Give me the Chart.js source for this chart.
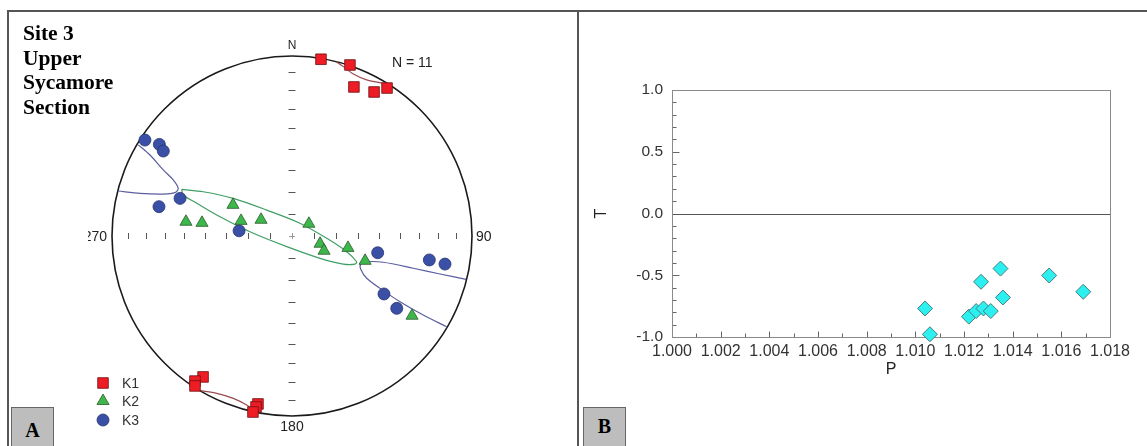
<!DOCTYPE html>
<html>
<head>
<meta charset="utf-8">
<script src="https://cdn.jsdelivr.net/npm/chart.js@4.4.1/dist/chart.umd.min.js"></script>
<style>
  html, body { margin: 0; padding: 0; background: #fff; }
  #fig { position: relative; width: 1147px; height: 446px; overflow: hidden; }
  .frame { position: absolute; left: 7px; top: 10px; right: -4px; bottom: -4px;
           border-top: 2px solid #555; border-left: 2px solid #555; }
  .divider { position: absolute; left: 577px; top: 10px; width: 2px; bottom: 0; background: #555; z-index: 2; }
  .site { position: absolute; left: 23px; top: 21px; color: #000;
          font: bold 21.5px/24.5px "Liberation Serif", "Times New Roman", serif; }
  .tag { position: absolute; top: 407px; width: 41px; height: 44px; background: #bdbdbd;
         border: 1px solid #666; text-align: center; color: #000;
         font: bold 20px "Liberation Serif", "Times New Roman", serif; z-index: 2; }
  canvas { position: absolute; }
</style>
</head>
<body>
<div id="fig">
  <div class="frame"></div>
  <canvas id="net" width="489" height="434" style="left:88px;top:12px"></canvas>
  <canvas id="pt" width="568" height="434" style="left:579px;top:12px"></canvas>
  <div class="divider"></div>
  <div class="site">Site 3<br>Upper<br>Sycamore<br>Section</div>
  <div class="tag" style="left:11px;line-height:44px">A</div>
  <div class="tag" style="left:583px;line-height:37px">B</div>
</div>
<script>
// ── Equal-area net, lower hemisphere: (east, north) on a unit primitive ──
const K1_NET = [
  [0.161, 0.982], [0.322, 0.950], [0.344, 0.828], [0.456, 0.800], [0.528, 0.822],
  [-0.494, -0.783], [-0.539, -0.806], [-0.539, -0.833],
  [-0.189, -0.933], [-0.200, -0.950], [-0.217, -0.978]
];
const K2_NET = [
  [-0.328, 0.173], [-0.589, 0.079], [-0.500, 0.073], [-0.283, 0.084], [-0.172, 0.090],
  [0.094, 0.068], [0.156, -0.043], [0.178, -0.082], [0.311, -0.066], [0.406, -0.138], [0.667, -0.443]
];
const K3_NET = [
  [-0.817, 0.533], [-0.737, 0.509], [-0.715, 0.472], [-0.622, 0.209], [-0.739, 0.163],
  [-0.294, 0.029], [0.476, -0.093], [0.763, -0.133], [0.850, -0.156], [0.511, -0.322], [0.582, -0.402]
];

// 95% confidence ellipses (traced, cut at the primitive)
const K1_CONE_N = [[0.245, 0.968], [0.285, 0.941], [0.341, 0.900], [0.415, 0.867], [0.489, 0.852], [0.528, 0.844]];
const K1_CONE_S = [[-0.511, -0.859], [-0.418, -0.874], [-0.326, -0.902], [-0.252, -0.939], [-0.215, -0.967]];
const K2_CONE = [
  [-0.613, 0.259], [-0.493, 0.246], [-0.326, 0.209], [-0.141, 0.144], [0.044, 0.071], [0.193, -0.013],
  [0.304, -0.087], [0.359, -0.143], [0.350, -0.156], [0.285, -0.156], [0.156, -0.124], [-0.029, -0.059],
  [-0.215, 0.015], [-0.400, 0.107], [-0.529, 0.182], [-0.604, 0.228], [-0.613, 0.259]
];
const K3_CONE_W = [
  [-0.854, 0.506], [-0.789, 0.450], [-0.715, 0.367], [-0.659, 0.311], [-0.632, 0.265],
  [-0.650, 0.241], [-0.715, 0.233], [-0.844, 0.237], [-0.965, 0.250]
];
const K3_CONE_E = [
  [0.967, -0.241], [0.822, -0.211], [0.674, -0.179], [0.507, -0.146], [0.415, -0.143], [0.382, -0.156],
  [0.382, -0.185], [0.415, -0.235], [0.489, -0.291], [0.600, -0.365], [0.729, -0.439], [0.859, -0.504]
];

const NET_TICKS = [10, 20, 30, 40, 50, 60, 70, 80];   // inclination marks, degrees

// ── Jelinek plot ──
const P_VALUES = [1.0104, 1.0106, 1.0122, 1.0125, 1.0128, 1.0131, 1.0127, 1.0135, 1.0136, 1.0155, 1.0169];
const T_VALUES = [-0.769, -0.978, -0.835, -0.790, -0.769, -0.790, -0.553, -0.446, -0.680, -0.502, -0.634];
const P_TICKS = [1.000, 1.001, 1.002, 1.003, 1.004, 1.005, 1.006, 1.007, 1.008, 1.009,
                 1.010, 1.011, 1.012, 1.013, 1.014, 1.015, 1.016, 1.017, 1.018];
const T_TICKS = [-1.0, -0.9, -0.8, -0.7, -0.6, -0.5, -0.4, -0.3, -0.2, -0.1, 0,
                 0.1, 0.2, 0.3, 0.4, 0.5, 0.6, 0.7, 0.8, 0.9, 1.0];

const FONT = '"Liberation Sans", Arial, sans-serif';
Chart.defaults.font.family = FONT;
Chart.defaults.color = '#333';

const eqArea = inc => Math.SQRT2 * Math.sin((90 - inc) / 2 * Math.PI / 180);
const xy = pts => pts.map(([x, y]) => ({ x, y }));

const markerSet = (label, pts, style, fill, edge, radius) => ({
  label, data: xy(pts), showLine: false, order: 1, clip: false,
  pointStyle: style, pointRadius: radius, backgroundColor: fill,
  borderColor: edge, borderWidth: 0.8, pointBorderWidth: 0.8
});
const coneSet = (pts, color) => ({
  data: xy(pts), showLine: true, pointRadius: 0, fill: false, order: 2, clip: false,
  borderColor: color, borderWidth: 1.2, tension: 0.3
});

const netPlugin = {
  id: 'net',
  beforeDatasetsDraw(chart) {
    const { ctx, scales: { x, y } } = chart;
    const cx = x.getPixelForValue(0), cy = y.getPixelForValue(0);
    const rx = x.getPixelForValue(1) - cx, ry = cy - y.getPixelForValue(1);
    ctx.save();
    ctx.strokeStyle = '#555';
    ctx.lineWidth = 1;
    ctx.beginPath();
    NET_TICKS.forEach(inc => {
      const r = eqArea(inc);
      [-r, r].forEach(v => {
        const px = Math.round(x.getPixelForValue(v)) + 0.5;
        const py = Math.round(y.getPixelForValue(v)) + 0.5;
        ctx.moveTo(px, cy - 3); ctx.lineTo(px, cy + 3);
        ctx.moveTo(cx - 3.5, py); ctx.lineTo(cx + 3.5, py);
      });
    });
    ctx.stroke();
    ctx.strokeStyle = '#999';
    ctx.beginPath();
    ctx.moveTo(cx - 3, cy + 0.5); ctx.lineTo(cx + 3, cy + 0.5);
    ctx.moveTo(cx + 0.5, cy - 3); ctx.lineTo(cx + 0.5, cy + 3);
    ctx.stroke();
    // primitive circle
    ctx.strokeStyle = '#1a1a1a';
    ctx.lineWidth = 1.6;
    ctx.beginPath();
    ctx.ellipse(cx, cy, rx, ry, 0, 0, 2 * Math.PI);
    ctx.stroke();
    ctx.restore();
  },
  afterDraw(chart) {
    const { ctx, chartArea: a, scales: { x, y } } = chart;
    const cx = x.getPixelForValue(0), cy = y.getPixelForValue(0);
    const R = x.getPixelForValue(1) - cx;
    ctx.save();
    ctx.fillStyle = '#222';
    ctx.textBaseline = 'middle';
    ctx.font = `12px ${FONT}`;
    ctx.textAlign = 'center';
    ctx.fillText('N', cx, cy - R - 10);
    ctx.font = `14px ${FONT}`;
    ctx.fillText('180', cx, cy + R + 11);
    ctx.textAlign = 'left';
    ctx.fillText('90', cx + R + 4, cy + 1);
    ctx.fillText(`N = ${K1_NET.length}`, cx + 100, a.top + 7);
    ctx.textAlign = 'right';
    ctx.fillText('270', cx - R - 5, cy + 1);

    // legend
    const rows = [a.bottom - 33, a.bottom - 15, a.bottom + 4];
    chart.data.datasets.slice(0, 3).forEach((ds, i) => {
      ctx.fillStyle = ds.backgroundColor;
      ctx.strokeStyle = ds.borderColor;
      ctx.lineWidth = ds.pointBorderWidth;
      Chart.helpers.drawPoint(ctx, {
        pointStyle: ds.pointStyle, radius: ds.pointRadius, rotation: 0, borderWidth: ds.pointBorderWidth
      }, a.left - 9, rows[i]);
      ctx.fillStyle = '#333';
      ctx.textAlign = 'left';
      ctx.fillText(ds.label, a.left + 10, rows[i] + 1);
    });
    ctx.restore();
  }
};

new Chart(document.getElementById('net'), {
  type: 'scatter',
  data: {
    datasets: [
      markerSet('K1', K1_NET, 'rect', '#ee1c25', '#6e1212', 7.5),
      markerSet('K2', K2_NET, 'triangle', '#3db64b', '#2c5a2c', 7),
      markerSet('K3', K3_NET, 'circle', '#3a50a6', '#27336e', 6),
      coneSet(K1_CONE_N, '#9a4a50'),
      coneSet(K1_CONE_S, '#9a4a50'),
      coneSet(K2_CONE, '#3f9f66'),
      coneSet(K3_CONE_W, '#5b5e9e'),
      coneSet(K3_CONE_E, '#5b5e9e')
    ]
  },
  options: {
    responsive: false, animation: false, events: [],
    layout: { padding: { left: 24, right: 105, top: 44, bottom: 30 } },
    scales: {
      x: { type: 'linear', min: -1, max: 1, display: false },
      y: { type: 'linear', min: -1, max: 1, display: false }
    },
    plugins: { legend: { display: false }, tooltip: { enabled: false } }
  },
  plugins: [netPlugin]
});

// ── T vs P: inside tick marks, frame and zero line ──
const framePlugin = {
  id: 'frame',
  beforeDatasetsDraw(chart) {
    const { ctx, chartArea: a, scales: { x, y } } = chart;
    const L = Math.round(a.left) + 0.5, Rt = Math.round(a.right) + 0.5;
    const T = Math.round(a.top) + 0.5, B = Math.round(a.bottom) + 0.5;
    ctx.save();
    ctx.lineWidth = 1;
    ctx.strokeStyle = '#666';
    ctx.beginPath();
    x.ticks.forEach(t => {
      const major = Math.round(t.value * 1000) % 2 === 0;
      const px = Math.round(x.getPixelForValue(t.value)) + 0.5;
      ctx.moveTo(px, B); ctx.lineTo(px, B - (major ? 6 : 4));
    });
    y.ticks.forEach(t => {
      const major = Math.round(t.value * 10) % 5 === 0;
      const py = Math.round(y.getPixelForValue(t.value)) + 0.5;
      ctx.moveTo(L, py); ctx.lineTo(L + (major ? 7 : 4), py);
    });
    ctx.stroke();
    const z = Math.round(y.getPixelForValue(0)) + 0.5;
    ctx.strokeStyle = '#555';
    ctx.beginPath();
    ctx.moveTo(L, z); ctx.lineTo(Rt, z);
    ctx.stroke();
    ctx.strokeStyle = '#8a8a8a';
    ctx.strokeRect(L, T, Rt - L, B - T);
    ctx.restore();
  }
};

new Chart(document.getElementById('pt'), {
  type: 'scatter',
  data: {
    datasets: [{
      data: P_VALUES.map((p, i) => ({ x: p, y: T_VALUES[i] })),
      pointStyle: 'rectRot', pointRadius: 7.5,
      backgroundColor: '#2cefef', borderColor: '#4a7c80', pointBorderWidth: 1, clip: false
    }]
  },
  options: {
    responsive: false, animation: false, events: [],
    layout: { padding: { left: 0, right: 37, top: 78, bottom: 64 } },
    scales: {
      x: {
        type: 'linear', min: 1.0, max: 1.018,
        afterBuildTicks: s => { s.ticks = P_TICKS.map(v => ({ value: v })); },
        afterFit: s => { s.height = 45; },
        grid: { display: false, drawTicks: false }, border: { display: false },
        ticks: {
          autoSkip: false, maxRotation: 0, minRotation: 0, padding: 5,
          font: { size: 16 }, color: '#333',
          callback: v => Math.round(v * 1000) % 2 === 0 ? v.toFixed(3) : ''
        },
        title: { display: true, text: 'P', font: { size: 16 }, color: '#222', padding: { top: 0, bottom: 3 } }
      },
      y: {
        type: 'linear', min: -1, max: 1,
        afterBuildTicks: s => { s.ticks = T_TICKS.map(v => ({ value: v })); },
        afterFit: s => { s.width = 93; },
        grid: { display: false, drawTicks: false }, border: { display: false },
        ticks: {
          autoSkip: false, padding: 9, font: { size: 15.5 }, color: '#333',
          callback: v => Math.round(v * 10) % 5 === 0 ? (Math.abs(v) < 1e-9 ? '0.0' : v.toFixed(1)) : ''
        },
        title: { display: true, text: 'T', font: { size: 16 }, color: '#222', padding: { top: 13, bottom: 0 } }
      }
    },
    plugins: { legend: { display: false }, tooltip: { enabled: false } }
  },
  plugins: [framePlugin]
});
</script>
</body>
</html>
